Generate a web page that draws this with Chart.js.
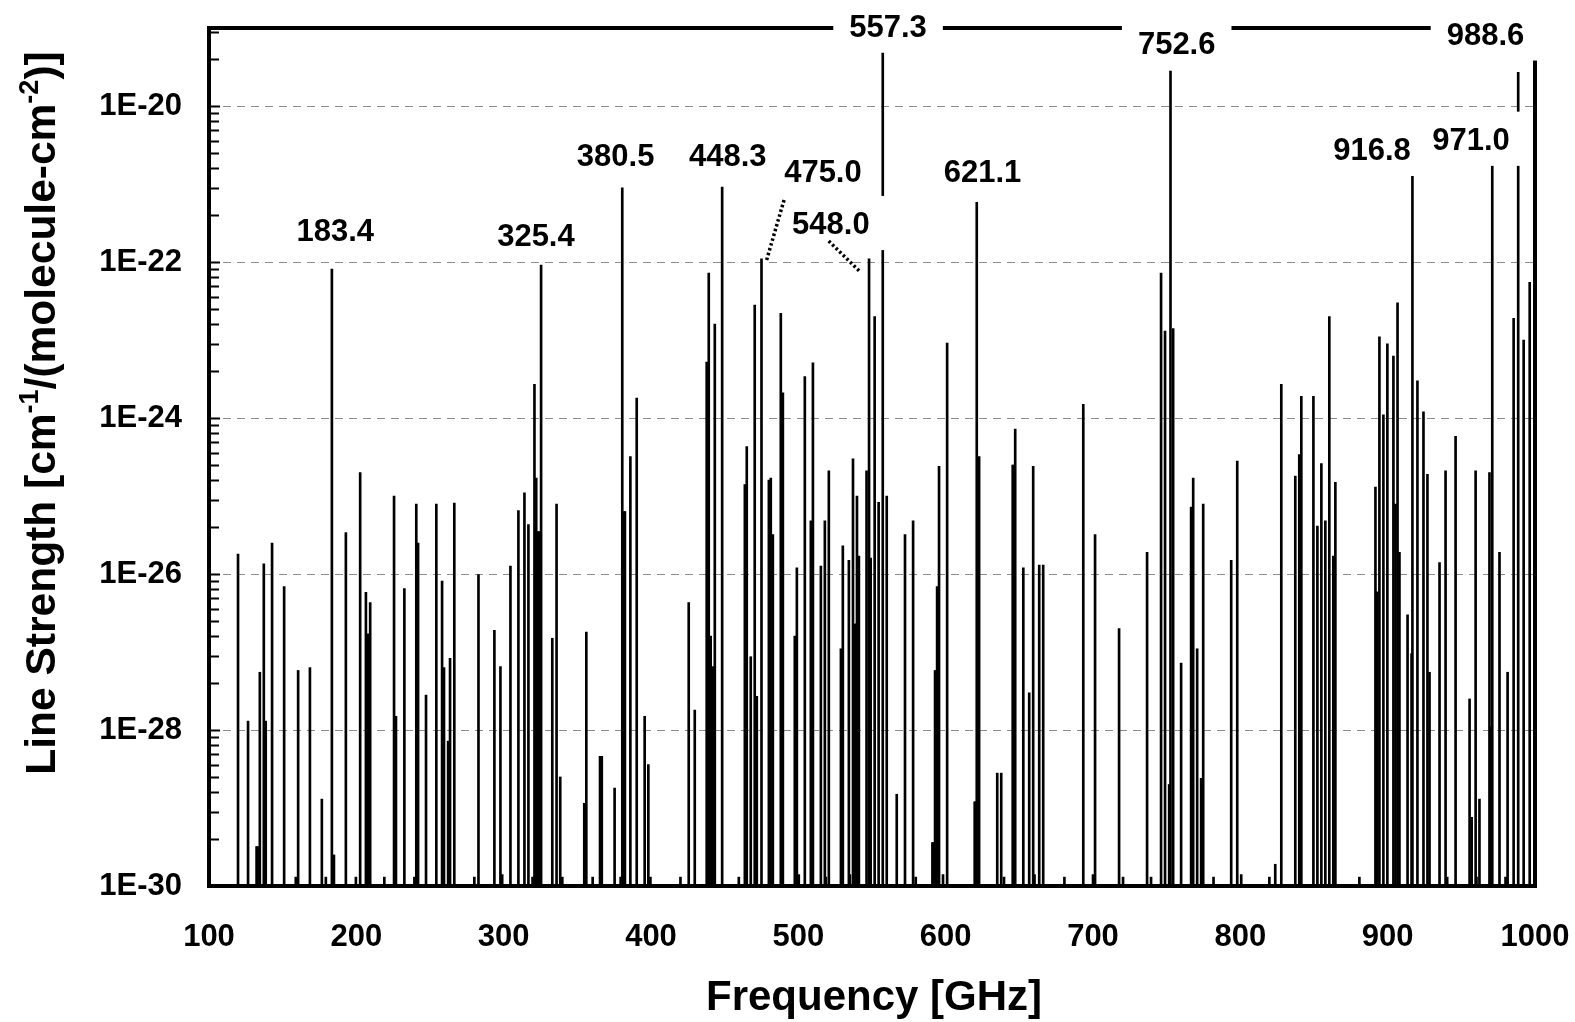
<!DOCTYPE html>
<html>
<head>
<meta charset="utf-8">
<script src="https://cdn.jsdelivr.net/npm/chart.js@4.4.1/dist/chart.umd.min.js"></script>
<style>
  html, body { margin: 0; padding: 0; background: #fff; }
</style>
</head>
<body>
<canvas id="spectrum" width="1575" height="1022"></canvas>
<script>
// Axis range
const Y_MIN = 1e-30;
const Y_MAX = 1e-19;
const yTickExponents = [-30, -28, -26, -24, -22, -20];

// Line positions (GHz) and line strengths [cm-1/(molecule cm-2)]
const frequencies = [
  119.7, 126.5, 132.3, 133.0, 134.5, 137.2, 138.5, 142.8, 151.0, 158.9,
  160.5, 168.5, 176.6, 179.3, 183.4, 184.8, 192.9, 199.7, 202.6, 206.5,
  207.6, 208.2, 209.4, 219.0, 225.6, 226.9, 232.6, 239.4, 240.7, 241.9,
  247.3, 254.3, 258.2, 259.5, 262.3, 263.6, 266.5, 280.1, 282.9, 293.7,
  297.8, 299.0, 304.6, 310.0, 314.1, 316.8, 319.6, 320.9, 322.1, 323.3,
  324.0, 325.4, 333.0, 335.9, 338.4, 339.8, 354.7, 356.1, 360.4, 365.4,
  366.6, 375.3, 379.4, 380.5, 381.7, 382.3, 386.0, 390.3, 395.7, 398.2,
  399.6, 420.0, 425.6, 429.7, 437.8, 439.2, 440.5, 441.9, 443.3, 448.3,
  459.6, 463.7, 465.0, 467.7, 470.4, 471.8, 475.0, 480.0, 481.3, 482.7,
  488.1, 489.5, 497.6, 499.0, 500.3, 504.4, 508.5, 509.9, 515.3, 518.0,
  518.7, 520.7, 528.9, 530.2, 534.3, 535.0, 537.1, 538.4, 539.8, 541.1,
  546.3, 548.0, 549.1, 551.8, 554.5, 557.3, 560.0, 566.8, 572.4, 577.9,
  579.7, 591.0, 591.6, 592.8, 594.2, 595.5, 598.2, 601.0, 619.7, 620.3,
  621.1, 622.7, 635.0, 637.7, 639.6, 645.5, 646.0, 647.2, 652.7, 656.7,
  659.4, 660.3, 663.5, 666.2, 680.6, 693.4, 700.0, 701.4, 717.7, 720.4,
  736.7, 739.4, 746.2, 748.9, 751.7, 752.6, 754.4, 759.8, 766.6, 768.0,
  770.7, 773.4, 774.8, 781.8, 793.8, 797.9, 800.6, 819.7, 823.7, 827.8,
  837.3, 840.0, 841.4, 849.6, 852.3, 855.0, 857.7, 860.4, 863.1, 864.5,
  880.8, 891.7, 893.0, 894.4, 897.1, 899.8, 903.9, 905.3, 906.7, 908.0,
  913.5, 916.2, 916.8, 920.2, 924.3, 927.0, 928.4, 935.2, 939.3, 940.4,
  946.1, 955.6, 957.0, 959.7, 960.3, 962.3, 969.1, 970.3, 971.0, 975.9,
  980.0, 981.4, 985.5, 988.6, 992.3, 996.4
];
const strengths = [
  1.8e-26, 1.3e-28, 3.2e-30, 3.2e-30, 5.5e-28, 1.35e-26, 1.3e-28, 2.5e-26, 6.9e-27, 1.3e-30,
  5.8e-28, 6.3e-28, 1.3e-29, 1.3e-30, 8.1e-23, 2.5e-30, 3.4e-26, 1.3e-30, 2.0e-25, 5.8e-27,
  1.7e-27, 1.7e-27, 4.3e-27, 1.3e-30, 1.0e-25, 1.5e-28, 6.5e-27, 1.3e-30, 7.9e-26, 2.5e-26,
  2.8e-28, 7.9e-26, 8.1e-27, 6.3e-28, 7.2e-29, 8.3e-28, 8.1e-26, 1.3e-30, 9.8e-27, 1.9e-27,
  6.5e-28, 1.4e-30, 1.26e-26, 6.5e-26, 1.1e-25, 4.3e-26, 1.3e-30, 2.7e-24, 1.7e-25, 3.5e-26,
  3.5e-26, 9.1e-23, 1.5e-27, 7.9e-26, 2.5e-29, 1.3e-30, 1.15e-29, 1.8e-27, 1.3e-30, 4.6e-29,
  4.6e-29, 1.8e-29, 1.3e-30, 8.9e-22, 6.3e-26, 6.3e-26, 3.2e-25, 1.8e-24, 1.5e-28, 3.6e-29,
  1.3e-30, 1.3e-30, 4.3e-27, 1.8e-28, 5.2e-24, 7.2e-23, 1.6e-27, 6.5e-28, 1.6e-23, 9.1e-22,
  1.3e-30, 1.4e-25, 4.3e-25, 8.7e-28, 2.8e-23, 2.7e-28, 1.1e-22, 1.6e-25, 1.7e-25, 3.2e-26,
  2.2e-23, 2.1e-24, 1.6e-27, 1.2e-26, 1.4e-30, 3.4e-24, 4.8e-26, 5.1e-24, 1.26e-26, 4.8e-26,
  1.3e-30, 2.1e-25, 1.1e-27, 2.3e-26, 1.5e-26, 1.4e-30, 3.0e-25, 2.3e-27, 1.0e-25, 1.7e-26,
  2.1e-25, 1.1e-22, 1.6e-26, 2.0e-23, 8.3e-26, 5.6e-20, 1.0e-25, 1.5e-29, 3.2e-26, 4.8e-26,
  1.3e-30, 3.6e-30, 3.6e-30, 5.8e-28, 6.9e-27, 2.4e-25, 1.4e-30, 9.1e-24, 1.2e-29, 1.2e-29,
  5.8e-22, 3.2e-25, 2.8e-29, 2.8e-29, 1.3e-30, 2.5e-25, 2.5e-25, 7.2e-25, 1.2e-26, 3.0e-28,
  2.4e-25, 1.4e-30, 1.3e-26, 1.3e-26, 1.3e-30, 1.5e-24, 1.4e-30, 3.2e-26, 2.0e-27, 1.3e-30,
  1.9e-26, 1.3e-30, 7.2e-23, 1.3e-23, 2.0e-29, 2.8e-20, 1.4e-23, 7.2e-28, 7.2e-26, 1.7e-25,
  1.1e-27, 2.4e-29, 7.9e-26, 1.3e-30, 1.5e-26, 2.8e-25, 1.4e-30, 1.3e-30, 1.9e-30, 2.7e-24,
  1.8e-25, 3.4e-25, 1.9e-24, 1.9e-24, 4.1e-26, 2.6e-25, 4.8e-26, 2.0e-23, 1.7e-26, 1.5e-25,
  1.3e-30, 1.3e-25, 5.9e-27, 1.1e-23, 1.1e-24, 8.9e-24, 6.2e-24, 7.9e-26, 3.0e-23, 1.9e-26,
  3.0e-27, 9.5e-28, 2.5e-21, 3.0e-24, 1.2e-24, 1.9e-25, 5.5e-28, 1.4e-26, 2.1e-25, 1.3e-30,
  5.8e-25, 2.5e-28, 7.6e-30, 2.1e-25, 1.3e-30, 1.3e-29, 2.0e-25, 1.1e-28, 5.0e-21, 1.9e-26,
  1.3e-30, 5.5e-28, 1.9e-23, 2.7e-20, 1.0e-23, 5.5e-23
];

// Peak labels (text boxes) placed in axis units: [text, GHz, log10 strength]
const peakLabels = [
  ['183.4', 185.7, -21.59], ['325.4', 321.9, -21.65], ['380.5', 376.0, -20.63],
  ['448.3', 452.1, -20.63], ['475.0', 516.7, -20.83], ['548.0', 522.1, -21.50],
  ['557.3', 560.9, -18.97], ['621.1', 625.0, -20.83], ['752.6', 756.8, -19.19],
  ['916.8', 889.4, -20.55], ['971.0', 956.6, -20.42], ['988.6', 966.4, -19.07]
];
// Dotted leaders from a label to its line: [[GHz, log10], [GHz, log10]]
const leaders = [
  [[490.3, -21.205], [478.1, -22.0]],
  [[520.6, -21.731], [542.1, -22.128]]
];

const FONT = "'Liberation Sans', Arial, sans-serif";
Chart.defaults.font.family = FONT;
Chart.defaults.color = '#000';

const frame = {
  id: 'frame',
  beforeDatasetsDraw(chart) {
    // dashed grey grid every two decades
    const { ctx, chartArea: a, scales: { y } } = chart;
    ctx.save();
    ctx.strokeStyle = '#8c8c8c';
    ctx.lineWidth = 1;
    ctx.setLineDash([8, 6]);
    yTickExponents.slice(1).forEach(e => {
      const py = Math.round(y.getPixelForValue(Math.pow(10, e))) + 0.5;
      ctx.beginPath();
      ctx.moveTo(a.left, py);
      ctx.lineTo(a.right, py);
      ctx.stroke();
    });
    ctx.restore();
  },
  afterDatasetsDraw(chart) {
    const { ctx, chartArea: a, scales: { x, y } } = chart;
    ctx.save();

    // plot border
    ctx.strokeStyle = '#000';
    ctx.lineWidth = 4;
    ctx.strokeRect(a.left, a.top, a.right - a.left, a.bottom - a.top);

    // minor ticks: the base-100 axis puts them at m^2 inside each major step
    ctx.lineWidth = 2;
    yTickExponents.forEach(e => {
      [1, 4, 9, 16, 25, 36, 49, 64, 81].forEach(m => {
        const v = m * Math.pow(10, e);
        if (v > Y_MAX * 1.0001) return;
        const py = Math.round(y.getPixelForValue(v)) + 0.5;
        ctx.beginPath();
        ctx.moveTo(a.left, py);
        ctx.lineTo(a.left + (m === 1 ? 11 : 10), py);
        ctx.stroke();
      });
    });

    // white text boxes with the peak frequencies
    const size = 31;
    const cap = size * 0.716;
    ctx.font = `bold ${size}px ${FONT}`;
    ctx.textAlign = 'center';
    ctx.textBaseline = 'alphabetic';
    peakLabels.forEach(([text, f, e]) => {
      const cx = x.getPixelForValue(f);
      const cy = y.getPixelForValue(Math.pow(10, e));
      const w = ctx.measureText(text).width;
      ctx.fillStyle = '#fff';
      ctx.fillRect(cx - w / 2 - 16, cy - cap / 2 - 16, w + 32, cap + 32);
      ctx.fillStyle = '#000';
      ctx.fillText(text, cx, cy + cap / 2);
    });

    // dotted leaders
    ctx.strokeStyle = '#000';
    ctx.lineWidth = 3.5;
    ctx.setLineDash([2.5, 2.5]);
    leaders.forEach(([p, q]) => {
      ctx.beginPath();
      ctx.moveTo(x.getPixelForValue(p[0]), y.getPixelForValue(Math.pow(10, p[1])));
      ctx.lineTo(x.getPixelForValue(q[0]), y.getPixelForValue(Math.pow(10, q[1])));
      ctx.stroke();
    });
    ctx.setLineDash([]);

    // axis titles
    ctx.fillStyle = '#000';
    ctx.font = `bold 42px ${FONT}`;
    ctx.textAlign = 'center';
    ctx.fillText('Frequency [GHz]', (a.left + a.right) / 2 + 2, 1010);

    const parts = [
      ['Line Strength [cm', false], ['-1', true], ['/(molecule-cm', false], ['-2', true], [')]', false]
    ];
    ctx.translate(55, 413);
    ctx.rotate(-Math.PI / 2);
    ctx.textAlign = 'left';
    const fontFor = sup => sup ? `bold 27px ${FONT}` : `bold 42.5px ${FONT}`;
    let total = 0;
    parts.forEach(([t, sup]) => { ctx.font = fontFor(sup); total += ctx.measureText(t).width; });
    let px = -total / 2;
    parts.forEach(([t, sup]) => {
      ctx.font = fontFor(sup);
      ctx.fillText(t, px, sup ? -17 : 0);
      px += ctx.measureText(t).width;
    });
    ctx.restore();
  }
};

const ctx = document.getElementById('spectrum').getContext('2d');
new Chart(ctx, {
  type: 'bar',
  data: {
    datasets: [{
      data: frequencies.map((f, i) => ({ x: f, y: [Y_MIN, strengths[i]] })),
      backgroundColor: '#000',
      borderWidth: 0,
      barThickness: 2,
      grouped: false
    }]
  },
  options: {
    responsive: false,
    animation: false,
    events: [],
    layout: { padding: { left: 0, right: 40, top: 28, bottom: 0 } },
    plugins: { legend: { display: false }, tooltip: { enabled: false } },
    scales: {
      x: {
        type: 'linear',
        min: 100,
        max: 1000,
        offset: false,
        grid: { display: false, drawTicks: false },
        border: { display: false },
        ticks: {
          stepSize: 100,
          autoSkip: false,
          maxRotation: 0,
          padding: 33,
          font: { size: 31, weight: 'bold' },
          color: '#000',
          callback: v => String(v)
        },
        afterFit: s => {
          s.height = 136;
          s.paddingLeft = 0;
          s.paddingRight = 0;
        }
      },
      y: {
        type: 'logarithmic',
        min: Y_MIN,
        max: Y_MAX,
        grid: { display: false, drawTicks: false },
        border: { display: false },
        afterBuildTicks: s => {
          s.ticks = yTickExponents.map(e => ({ value: Math.pow(10, e) }));
        },
        ticks: {
          padding: 27,
          font: { size: 31, weight: 'bold' },
          color: '#000',
          callback: v => '1E' + Math.round(Math.log10(v))
        },
        afterFit: s => {
          s.width = 209;
          s.paddingTop = 0;
          s.paddingBottom = 0;
        }
      }
    }
  },
  plugins: [frame]
});
</script>
</body>
</html>
